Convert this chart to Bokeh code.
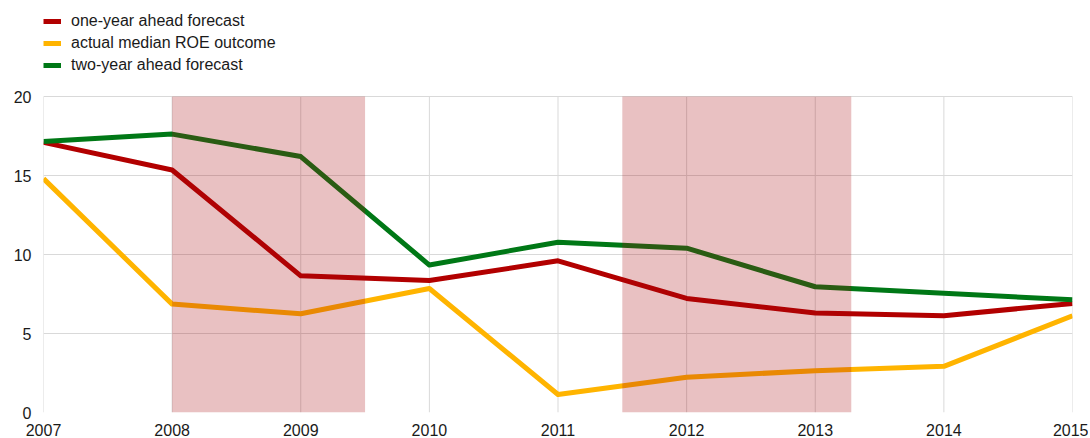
from bokeh.plotting import figure
from bokeh.models import Range1d, FixedTicker, Legend, LegendItem, BoxAnnotation
from bokeh.embed import file_html
from bokeh.resources import INLINE

years = [2007, 2008, 2009, 2010, 2011, 2012, 2013, 2014, 2015]
one_year = [17.1, 15.35, 8.65, 8.35, 9.6, 7.22, 6.3, 6.13, 6.9]
actual = [14.8, 6.86, 6.25, 7.85, 1.14, 2.23, 2.65, 2.92, 6.12]
two_year = [17.15, 17.62, 16.2, 9.33, 10.78, 10.4, 7.96, 7.54, 7.14]
shade_periods = [(2008.0, 2009.5), (2011.5, 2013.28)]
y_ticks = [0, 5, 10, 15, 20]
labels = ["one-year ahead forecast", "actual median ROE outcome", "two-year ahead forecast"]
colors = ["#B20000", "#FFB400", "#007816"]

FONT = "Liberation Sans"

# layout: plot area spans 316 px for 0..20; extra headroom above for the legend
H, BOTTOM, PLOT_H = 438, 26, 316
frame_h = H - BOTTOM
y_top = y_ticks[-1] * frame_h / PLOT_H
LEGEND_TOP, LEGEND_H = 11, 64

p = figure(width=1088, height=H, output_backend="svg", toolbar_location=None,
           x_range=Range1d(years[0], years[-1]), y_range=Range1d(0, y_top),
           min_border_left=43, min_border_right=16, min_border_top=0, min_border_bottom=BOTTOM)
p.outline_line_color = None
p.background_fill_color = "white"

p.xaxis.ticker = FixedTicker(ticks=years)
p.yaxis.ticker = FixedTicker(ticks=y_ticks)
for ax in (p.xaxis[0], p.yaxis[0]):
    ax.axis_line_color = None
    ax.major_tick_line_color = None
    ax.minor_tick_line_color = None
    ax.major_label_text_font = FONT
    ax.major_label_text_font_size = "16px"
    ax.major_label_text_color = "#1a1a1a"
p.xaxis.major_label_standoff = 5
p.yaxis.major_label_standoff = 6

p.xgrid.visible = False
p.ygrid.grid_line_color = "#d9d9d9"
p.ygrid.grid_line_width = 1

# vertical grid lines only across the 0..20 value band
p.segment(x0=years, y0=[y_ticks[0]] * len(years), x1=years, y1=[y_ticks[-1]] * len(years),
          line_color="#d9d9d9", line_width=1, level="underlay")

renderers = []
for ys, c in zip([one_year, actual, two_year], colors):
    r = p.line(years, ys, line_color=c, line_width=5, line_join="round")
    renderers.append(r)

for a, b in shade_periods:
    p.add_layout(BoxAnnotation(left=a, right=b, bottom=y_ticks[0], top=y_ticks[-1],
                               fill_color="#A8070B", fill_alpha=0.25,
                               line_color=None, level="overlay"))

legend = Legend(items=[LegendItem(label=l, renderers=[r]) for l, r in zip(labels, renderers)],
                location=(0, frame_h - LEGEND_TOP - LEGEND_H), orientation="vertical",
                padding=0, margin=0, spacing=2,
                glyph_width=18, glyph_height=20, label_height=20,
                label_standoff=10, label_text_font=FONT, label_text_font_size="16px",
                label_text_color="#1a1a1a", border_line_color=None,
                background_fill_alpha=0)
p.add_layout(legend, "center")

open("out.html", "w").write(file_html(p, INLINE))
